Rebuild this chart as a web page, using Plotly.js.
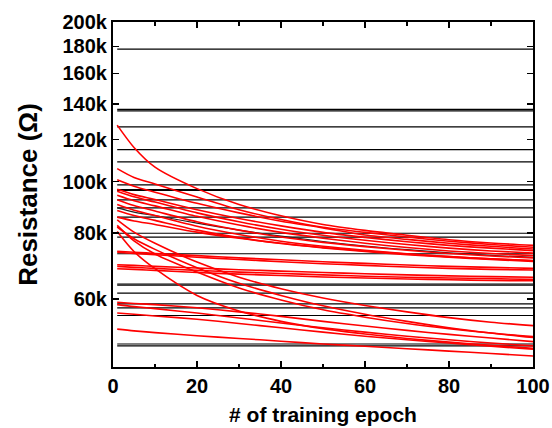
<!DOCTYPE html>
<html><head><meta charset="utf-8">
<script src="https://cdn.plot.ly/plotly-3.0.1.min.js"></script>
<style>html,body{margin:0;padding:0;background:#fff;}#chart{width:552px;height:428px;}</style>
</head><body><div id="chart"></div>
<script>
// epochs at which the red (trained) curves were read
const epochs = [1, 5, 10, 20, 30, 40, 50, 60, 70, 80, 90, 100];

// resistance of the trained devices, kΩ
const redU1  = [127.8, 116.0, 106.5, 97.0, 90.5, 86.2, 83.0, 80.9, 79.2, 77.7, 76.6, 75.8];
const redU2  = [105.8, 101.8, 99.0, 93.5, 88.5, 84.8, 82.0, 80.2, 78.6, 77.2, 76.1, 75.2];
const redU3  = [100.8, 98.0, 95.5, 91.0, 87.3, 84.2, 81.8, 79.3, 77.8, 76.5, 75.5, 74.6];
const redU4  = [96.7, 94.5, 92.5, 88.5, 85.2, 82.5, 80.2, 78.5, 77.0, 75.8, 74.9, 74.1];
const redU5  = [95.9, 93.6, 91.5, 87.3, 84.0, 81.3, 79.2, 77.5, 76.1, 74.9, 74.0, 73.3];
const redU6  = [94.2, 92.0, 90.0, 86.0, 82.8, 80.2, 78.2, 76.5, 75.1, 74.0, 73.2, 72.5];
const redU7  = [92.4, 90.1, 88.0, 84.0, 81.0, 78.6, 76.8, 75.4, 74.2, 73.2, 72.4, 71.8];
const redU8  = [90.5, 88.3, 86.3, 82.4, 79.5, 77.2, 75.5, 74.2, 73.1, 72.2, 71.5, 71.0];
const redU9  = [88.2, 86.3, 84.5, 81.0, 78.4, 76.4, 75.0, 73.8, 72.8, 72.0, 71.3, 70.7];
const redU10 = [85.7, 84.3, 83.0, 80.3, 78.2, 76.5, 75.1, 74.0, 73.0, 72.2, 71.5, 70.9];
const redS1  = [84.7, 80.3, 76.5, 70.5, 66.0, 62.8, 60.3, 58.4, 56.8, 55.4, 54.3, 53.5];
const redF1  = [82.7, 77.3, 73.0, 67.5, 63.0, 59.8, 57.3, 55.5, 54.0, 52.8, 51.8, 51.0];
const redS2  = [82.1, 78.0, 74.5, 68.8, 64.3, 61.0, 58.3, 56.2, 54.5, 53.0, 51.8, 50.8];
const redF2  = [80.5, 73.8, 68.5, 61.0, 57.0, 54.5, 52.8, 51.6, 50.6, 49.8, 49.1, 48.5];
const redM1  = [73.9, 73.6, 73.2, 72.5, 71.8, 71.2, 70.6, 70.1, 69.6, 69.2, 68.9, 68.6];
const redM2  = [73.6, 73.2, 72.8, 72.0, 71.3, 70.6, 70.0, 69.5, 69.0, 68.6, 68.3, 68.1];
const redM3  = [69.7, 69.5, 69.2, 68.7, 68.2, 67.8, 67.4, 67.0, 66.7, 66.4, 66.2, 66.0];
const redM4  = [69.2, 68.9, 68.6, 68.0, 67.5, 67.1, 66.7, 66.3, 66.0, 65.8, 65.6, 65.4];
const redM5  = [68.5, 68.3, 68.0, 67.4, 66.9, 66.5, 66.1, 65.8, 65.5, 65.3, 65.1, 65.0];
const redL1  = [59.2, 58.9, 58.6, 57.8, 56.8, 55.7, 54.5, 53.4, 52.4, 51.5, 50.7, 49.9];
const redL2  = [58.6, 58.1, 57.6, 56.5, 55.3, 54.1, 53.0, 52.0, 51.1, 50.3, 49.6, 49.0];
const redL3  = [56.5, 56.2, 55.8, 55.0, 54.0, 53.0, 52.0, 51.1, 50.3, 49.6, 48.9, 48.3];
const redL4  = [52.7, 52.3, 51.9, 51.2, 50.6, 50.0, 49.4, 48.9, 48.4, 47.9, 47.4, 46.9];
const redCurves = [redU1, redU2, redU3, redU4, redU5, redU6, redU7, redU8, redU9, redU10,
                   redS1, redF1, redS2, redF2, redM1, redM2, redM3, redM4, redM5,
                   redL1, redL2, redL3, redL4];

// untrained (reference) devices: constant resistance, kΩ
const flatEpochs = [1, 100];
const flatLevels = [177.8, 136.8, 136.0, 126.8, 114.9, 108.9, 98.6, 96.6, 96.2, 92.4, 89.2,
                    85.7, 79.9, 78.6, 73.1, 64.1, 63.8, 61.6, 58.8, 57.8, 55.9, 49.4, 49.0];
// one slowly drifting black device, kΩ
const driftBlack = [89.2, 87.6, 86.3, 83.5, 81.0, 78.9, 77.1, 75.6, 74.4, 73.4, 72.6, 72.0];

// axes
const xTicks = [0, 20, 40, 60, 80, 100];
const xMinor = [10, 30, 50, 70, 90];
const yTicks = [60, 80, 100, 120, 140, 160, 180, 200];
const yTickText = ['60k', '80k', '100k', '120k', '140k', '160k', '180k', '200k'];
const yRange = [44.7, 200];

const traces = [];
flatLevels.forEach(v => traces.push({
  x: flatEpochs, y: [v, v], mode: 'lines', type: 'scatter',
  line: {color: '#000', width: 1.2}, hoverinfo: 'skip', showlegend: false
}));
traces.push({x: epochs, y: driftBlack, mode: 'lines', type: 'scatter',
  line: {color: '#222', width: 1.2, shape: 'spline'}, hoverinfo: 'skip', showlegend: false});
redCurves.forEach(c => traces.push({
  x: epochs, y: c, mode: 'lines', type: 'scatter',
  line: {color: '#ff0000', width: 1.6, shape: 'spline', smoothing: 0.8},
  hoverinfo: 'skip', showlegend: false
}));

const fam = 'Arial, "Liberation Sans", sans-serif';
const layout = {
  width: 552, height: 428,
  margin: {l: 113, r: 19, t: 22, b: 61, pad: 0},
  paper_bgcolor: '#fff', plot_bgcolor: '#fff',
  showlegend: false,
  xaxis: {
    range: [0, 100], tickvals: xTicks, ticktext: xTicks.map(String),
    ticks: 'inside', ticklen: 6, tickwidth: 1.5, tickcolor: '#000',
    minor: {tickvals: xMinor, ticks: 'inside', ticklen: 3.5, tickwidth: 1.5, tickcolor: '#000', showgrid: false},
    showline: true, linecolor: '#000', linewidth: 2, mirror: 'ticks',
    showgrid: false, zeroline: false, automargin: false,
    tickfont: {family: fam, size: 20, weight: 'bold', color: '#000'},
    title: {text: '# of training epoch', font: {family: fam, size: 21, weight: 'bold', color: '#000'}, standoff: 11}
  },
  yaxis: {
    type: 'log', range: yRange.map(Math.log10),
    tickvals: yTicks, ticktext: yTickText,
    ticks: 'inside', ticklen: 6, tickwidth: 1.5, tickcolor: '#000',
    showline: true, linecolor: '#000', linewidth: 2, mirror: 'ticks',
    showgrid: false, zeroline: false, automargin: false,
    tickfont: {family: fam, size: 20, weight: 'bold', color: '#000'},
    title: {text: 'Resistance (Ω)', font: {family: fam, size: 26, weight: 'bold', color: '#000'}, standoff: 17}
  }
};
Plotly.newPlot('chart', traces, layout, {displayModeBar: false, staticPlot: true});
</script></body></html>
